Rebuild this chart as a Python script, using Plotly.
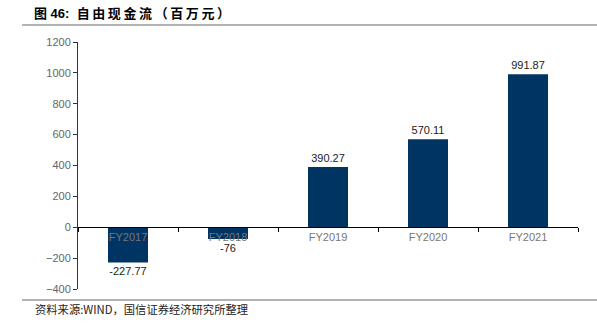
import plotly.graph_objects as go

categories = ["FY2017", "FY2018", "FY2019", "FY2020", "FY2021"]
values = [-227.77, -76, 390.27, 570.11, 991.87]
labels = ["-227.77", "-76", "390.27", "570.11", "991.87"]
y_ticks = [-400, -200, 0, 200, 400, 600, 800, 1000, 1200]

FONT = "Liberation Sans, Arial, Noto Sans CJK SC, sans-serif"
CJK = "Noto Sans CJK SC, Liberation Sans, sans-serif"

fig = go.Figure()
fig.add_trace(go.Bar(
    x=categories, y=values, text=labels, textposition="outside",
    textfont=dict(family=FONT, size=11, color="#222222"),
    marker=dict(color="#003462", line=dict(width=0)),
    width=0.4, cliponaxis=False,
))

H = 247.0
W = 500.0
def py(px):
    return (289 - px) / H
def pxx(px):
    return (px - 78) / W

TS = "\u2009"
NB = "\u00a0"
title_cn = TS.join("自由现金流（百万元）")

fig.update_layout(
    width=597, height=323,
    margin=dict(l=78, r=19, t=42, b=34),
    paper_bgcolor="white", plot_bgcolor="white",
    showlegend=False,
    font=dict(family=FONT, size=11, color="#666666"),
    xaxis=dict(
        type="category", anchor="free", position=0.25,
        showline=True, linecolor="#000000", linewidth=1,
        ticks="outside", tickson="boundaries", ticklen=4, tickcolor="#000000",
        tickfont=dict(family=FONT, size=11, color="#777777"),
        showgrid=False, zeroline=False, range=[-0.5, 4.5],
    ),
    yaxis=dict(
        range=[-400, 1200], tickvals=y_ticks,
        showline=True, linecolor="#333333", linewidth=1,
        ticks="outside", ticklen=4, tickcolor="#333333",
        tickfont=dict(family=FONT, size=11, color="#666666"),
        showgrid=False, zeroline=False,
    ),
    shapes=[
        dict(type="line", xref="paper", yref="paper", x0=pxx(22), x1=pxx(597),
             y0=py(25), y1=py(25), line=dict(color="#666666", width=1)),
        dict(type="line", xref="paper", yref="paper", x0=pxx(22), x1=pxx(597),
             y0=py(300), y1=py(300), line=dict(color="#666666", width=1)),
    ],
    annotations=[
        dict(text="<b>图" + NB + "46:" + NB * 2
                  + '<span style="font-family:Noto Sans CJK SC">' + title_cn + "</span></b>",
             xref="paper", yref="paper",
             x=pxx(32), y=py(13), xanchor="left", yanchor="middle", showarrow=False,
             font=dict(family=FONT, size=13, color="#000000")),
        dict(text="资料来源:WIND，国信证券经济研究所整理", xref="paper", yref="paper",
             x=pxx(33), y=py(309), xanchor="left", yanchor="middle", showarrow=False,
             font=dict(family=CJK, size=11.3, color="#222222")),
    ],
)

fig.write_html("out.html")
